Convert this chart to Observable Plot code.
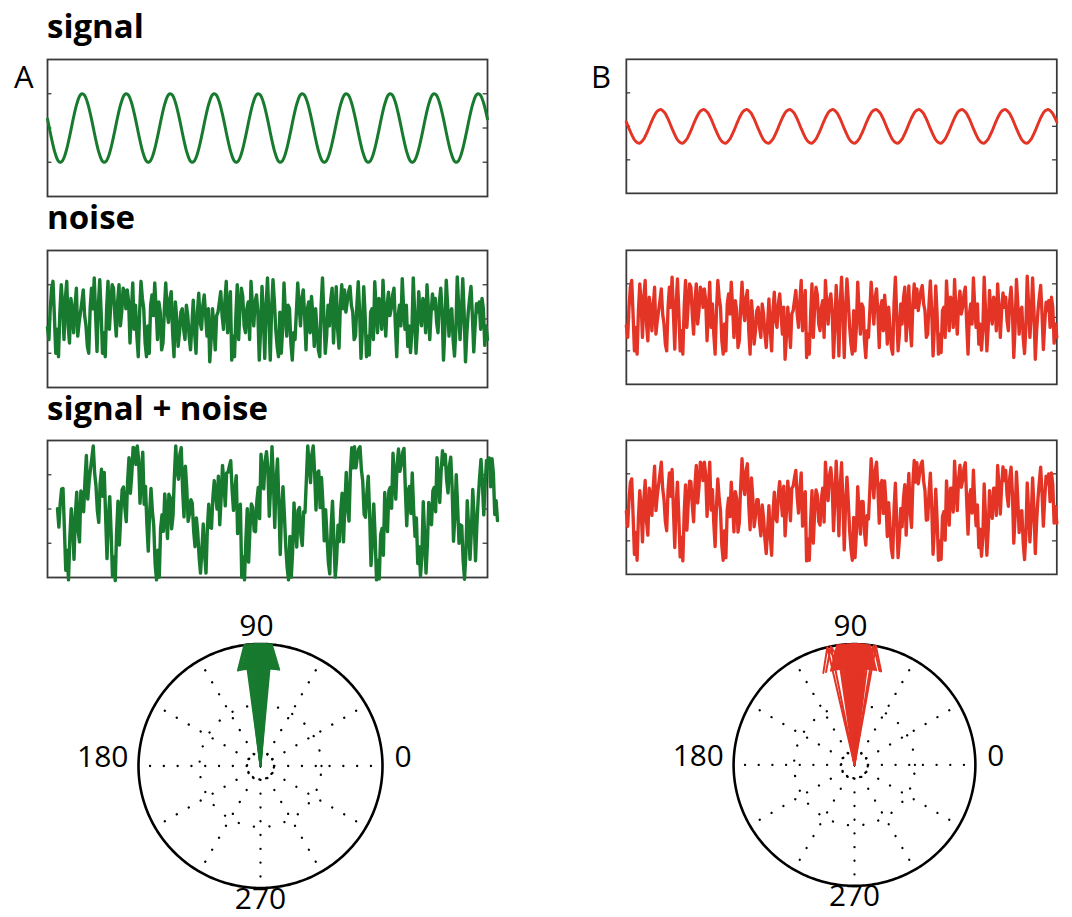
<!DOCTYPE html>
<html>
<head>
<meta charset="utf-8">
<script src="https://cdn.jsdelivr.net/npm/d3@7"></script>
<script src="https://cdn.jsdelivr.net/npm/@observablehq/plot@0.6"></script>
<style>
  html, body { margin: 0; padding: 0; background: #fff; }
  #root { position: relative; width: 1072px; height: 917px; overflow: hidden; font-family: "Open Sans", sans-serif; }
  .p { position: absolute; }
  .p svg { overflow: visible; display: block; }
  #overlay { position: absolute; left: 0; top: 0; pointer-events: none; }
</style>
</head>
<body>
<div id="root"></div>
<script>
// ---------------- DATA ----------------
const colorA = "#187a2f";
const colorB = "#e33426";

// y tick values on the trace panels
const yTicks = [-1, 0, 1];

// signal A: 10 cycles over the panel, 32 samples per cycle (321 samples)
const signalA = [
  0.26,0.07,-0.13,-0.32,-0.5,-0.66,-0.79,-0.9,-0.97,-1.0,-0.99,-0.95,-0.87,-0.75,-0.61,-0.44,-0.26,-0.07,0.13,0.32,0.5,0.66,0.79,0.9,0.97,1.0,0.99,0.95,0.87,0.75,0.61,0.44,
  0.26,0.07,-0.13,-0.32,-0.5,-0.66,-0.79,-0.9,-0.97,-1.0,-0.99,-0.95,-0.87,-0.75,-0.61,-0.44,-0.26,-0.07,0.13,0.32,0.5,0.66,0.79,0.9,0.97,1.0,0.99,0.95,0.87,0.75,0.61,0.44,
  0.26,0.07,-0.13,-0.32,-0.5,-0.66,-0.79,-0.9,-0.97,-1.0,-0.99,-0.95,-0.87,-0.75,-0.61,-0.44,-0.26,-0.07,0.13,0.32,0.5,0.66,0.79,0.9,0.97,1.0,0.99,0.95,0.87,0.75,0.61,0.44,
  0.26,0.07,-0.13,-0.32,-0.5,-0.66,-0.79,-0.9,-0.97,-1.0,-0.99,-0.95,-0.87,-0.75,-0.61,-0.44,-0.26,-0.07,0.13,0.32,0.5,0.66,0.79,0.9,0.97,1.0,0.99,0.95,0.87,0.75,0.61,0.44,
  0.26,0.07,-0.13,-0.32,-0.5,-0.66,-0.79,-0.9,-0.97,-1.0,-0.99,-0.95,-0.87,-0.75,-0.61,-0.44,-0.26,-0.07,0.13,0.32,0.5,0.66,0.79,0.9,0.97,1.0,0.99,0.95,0.87,0.75,0.61,0.44,
  0.26,0.07,-0.13,-0.32,-0.5,-0.66,-0.79,-0.9,-0.97,-1.0,-0.99,-0.95,-0.87,-0.75,-0.61,-0.44,-0.26,-0.07,0.13,0.32,0.5,0.66,0.79,0.9,0.97,1.0,0.99,0.95,0.87,0.75,0.61,0.44,
  0.26,0.07,-0.13,-0.32,-0.5,-0.66,-0.79,-0.9,-0.97,-1.0,-0.99,-0.95,-0.87,-0.75,-0.61,-0.44,-0.26,-0.07,0.13,0.32,0.5,0.66,0.79,0.9,0.97,1.0,0.99,0.95,0.87,0.75,0.61,0.44,
  0.26,0.07,-0.13,-0.32,-0.5,-0.66,-0.79,-0.9,-0.97,-1.0,-0.99,-0.95,-0.87,-0.75,-0.61,-0.44,-0.26,-0.07,0.13,0.32,0.5,0.66,0.79,0.9,0.97,1.0,0.99,0.95,0.87,0.75,0.61,0.44,
  0.26,0.07,-0.13,-0.32,-0.5,-0.66,-0.79,-0.9,-0.97,-1.0,-0.99,-0.95,-0.87,-0.75,-0.61,-0.44,-0.26,-0.07,0.13,0.32,0.5,0.66,0.79,0.9,0.97,1.0,0.99,0.95,0.87,0.75,0.61,0.44,
  0.26,0.07,-0.13,-0.32,-0.5,-0.66,-0.79,-0.9,-0.97,-1.0,-0.99,-0.95,-0.87,-0.75,-0.61,-0.44,-0.26,-0.07,0.13,0.32,0.5,0.66,0.79,0.9,0.97,1.0,0.99,0.95,0.87,0.75,0.61,0.44,
  0.26
];

// signal B: half the amplitude of A
const signalB = [
  0.13,0.03,-0.07,-0.16,-0.25,-0.33,-0.4,-0.45,-0.48,-0.5,-0.5,-0.47,-0.43,-0.38,-0.3,-0.22,-0.13,-0.03,0.07,0.16,0.25,0.33,0.4,0.45,0.48,0.5,0.5,0.47,0.43,0.38,0.3,0.22,
  0.13,0.03,-0.07,-0.16,-0.25,-0.33,-0.4,-0.45,-0.48,-0.5,-0.5,-0.47,-0.43,-0.38,-0.3,-0.22,-0.13,-0.03,0.07,0.16,0.25,0.33,0.4,0.45,0.48,0.5,0.5,0.47,0.43,0.38,0.3,0.22,
  0.13,0.03,-0.07,-0.16,-0.25,-0.33,-0.4,-0.45,-0.48,-0.5,-0.5,-0.47,-0.43,-0.38,-0.3,-0.22,-0.13,-0.03,0.07,0.16,0.25,0.33,0.4,0.45,0.48,0.5,0.5,0.47,0.43,0.38,0.3,0.22,
  0.13,0.03,-0.07,-0.16,-0.25,-0.33,-0.4,-0.45,-0.48,-0.5,-0.5,-0.47,-0.43,-0.38,-0.3,-0.22,-0.13,-0.03,0.07,0.16,0.25,0.33,0.4,0.45,0.48,0.5,0.5,0.47,0.43,0.38,0.3,0.22,
  0.13,0.03,-0.07,-0.16,-0.25,-0.33,-0.4,-0.45,-0.48,-0.5,-0.5,-0.47,-0.43,-0.38,-0.3,-0.22,-0.13,-0.03,0.07,0.16,0.25,0.33,0.4,0.45,0.48,0.5,0.5,0.47,0.43,0.38,0.3,0.22,
  0.13,0.03,-0.07,-0.16,-0.25,-0.33,-0.4,-0.45,-0.48,-0.5,-0.5,-0.47,-0.43,-0.38,-0.3,-0.22,-0.13,-0.03,0.07,0.16,0.25,0.33,0.4,0.45,0.48,0.5,0.5,0.47,0.43,0.38,0.3,0.22,
  0.13,0.03,-0.07,-0.16,-0.25,-0.33,-0.4,-0.45,-0.48,-0.5,-0.5,-0.47,-0.43,-0.38,-0.3,-0.22,-0.13,-0.03,0.07,0.16,0.25,0.33,0.4,0.45,0.48,0.5,0.5,0.47,0.43,0.38,0.3,0.22,
  0.13,0.03,-0.07,-0.16,-0.25,-0.33,-0.4,-0.45,-0.48,-0.5,-0.5,-0.47,-0.43,-0.38,-0.3,-0.22,-0.13,-0.03,0.07,0.16,0.25,0.33,0.4,0.45,0.48,0.5,0.5,0.47,0.43,0.38,0.3,0.22,
  0.13,0.03,-0.07,-0.16,-0.25,-0.33,-0.4,-0.45,-0.48,-0.5,-0.5,-0.47,-0.43,-0.38,-0.3,-0.22,-0.13,-0.03,0.07,0.16,0.25,0.33,0.4,0.45,0.48,0.5,0.5,0.47,0.43,0.38,0.3,0.22,
  0.13,0.03,-0.07,-0.16,-0.25,-0.33,-0.4,-0.45,-0.48,-0.5,-0.5,-0.47,-0.43,-0.38,-0.3,-0.22,-0.13,-0.03,0.07,0.16,0.25,0.33,0.4,0.45,0.48,0.5,0.5,0.47,0.43,0.38,0.3,0.22,
  0.13
];

// noise (same realisation in A and B), 321 samples
const noise = [
  -0.25,-0.6,0.3,0.9,1.1,0.1,-1.0,-0.3,-1.1,0.2,1.0,0.4,-0.6,0.6,1.1,-0.2,-0.7,0.6,0.3,-0.4,0.35,0.9,-0.5,-0.1,0.2,0.5,0.85,0.1,-0.2,-0.8,-1.0,0.3,
  0.9,0.3,1.2,0.1,-0.95,0.4,1.15,0.2,-1.0,-0.4,-1.1,0.3,1.1,-0.3,0.4,1.0,0.9,0.1,-0.5,0.5,1.0,-0.2,0.2,0.9,0.8,0.3,0.85,0.5,-0.7,0.2,1.05,-0.3,
  0.4,-0.5,-1.1,0.2,1.1,0.6,0.3,-0.7,-1.1,-0.2,-1.0,0.4,0.7,0.1,1.05,0.3,-0.6,0.5,0.2,-0.9,-0.7,0.3,1.05,0.2,-0.1,0.6,0.8,-0.4,-1.1,0.5,0.0,-0.8,
  -0.4,0.2,0.3,-0.3,-0.6,0.4,0.1,-0.5,-0.9,-0.2,0.55,-0.4,-1.0,0.2,0.75,-0.1,-0.3,0.4,0.7,0.1,-0.5,0.3,-1.25,-0.6,0.3,-0.2,-0.9,0.1,0.2,0.5,0.8,0.1,
  -0.3,0.5,1.1,-0.4,0.2,0.8,-1.2,-0.5,-1.1,0.1,1.0,-0.6,0.3,0.9,0.66,-0.2,-0.4,0.3,0.5,-0.6,1.1,0.4,-0.2,0.5,0.7,0.2,-1.2,-0.3,0.95,0.1,-1.15,0.4,
  1.2,0.1,-1.2,0.3,1.15,0.5,-0.3,-0.8,-1.1,0.2,-1.0,-0.3,1.05,0.2,-0.5,0.4,0.3,-0.7,-1.2,-0.4,-0.6,0.2,1.05,0.4,-0.2,0.6,0.85,0.1,-0.9,0.3,0.5,-0.4,
  0.66,0.1,-0.8,0.3,-0.3,-0.9,-1.1,0.4,1.2,0.1,-1.0,-0.5,0.4,-0.2,0.56,0.9,-0.7,0.2,0.94,-0.3,-0.85,0.4,1.0,0.3,0.85,0.2,0.5,0.8,0.95,0.4,0.2,-0.6,
  -0.5,0.4,1.09,0.2,-1.15,-0.3,0.94,0.1,-1.1,-0.5,-1.05,0.2,0.3,-0.6,1.09,0.3,-0.4,0.6,0.5,-0.3,1.13,0.2,-0.5,0.4,0.78,0.1,0.3,0.7,0.9,-0.2,-1.1,0.1,
  0.4,-0.2,1.18,0.3,-0.3,0.4,-0.8,-0.2,-0.98,-0.4,1.2,0.2,-1.0,-0.3,0.8,0.1,-0.2,0.6,0.5,-0.4,1.0,0.3,-0.6,0.2,0.73,0.3,0.6,-0.1,-0.4,0.5,0.9,0.2,
  -1.2,-0.3,1.13,0.4,-0.5,0.2,0.3,-0.6,-1.08,-0.3,1.23,0.4,-0.6,0.1,1.18,0.2,-1.25,-0.4,0.2,0.6,0.95,0.1,-0.96,-0.2,0.45,0.2,0.5,-0.3,0.6,0.3,-0.77,-0.2,
  -0.6
];

// phase angles (degrees) of the compass arrows
const phasesA = [84.7,85.5,86.2,86.8,87.3,87.8,88.2,88.6,89.0,89.4,89.7,90.0,90.3,90.6,91.0,91.4,91.8,92.2,92.7,93.2,93.8,94.5,95.3,96.2,97.0,97.6];
const phasesB = [79.8,80.8,82.8,83.8,84.6,85.3,85.9,86.5,87.1,87.6,88.1,88.6,89.1,89.6,90.1,90.6,91.1,91.6,92.2,92.8,93.4,94.1,94.8,95.6,96.5,97.4,98.3,101.3,103.0];

// polar tick labels
const polarLabels = ["0", "90", "180", "270"];
const titles = ["signal", "noise", "signal + noise"];
const panelLetters = ["A", "B"];

// ---------------- DRAWING ----------------
const root = document.getElementById("root");
const sumA = signalA.map((s, i) => s + noise[i]);
const sumB = signalB.map((s, i) => s + noise[i]);

function place(el, left, top) {
  const d = document.createElement("div");
  d.className = "p";
  d.style.left = left + "px";
  d.style.top = top + "px";
  d.appendChild(el);
  root.appendChild(d);
}

function tracePanel(boxLeft, boxTop, series, color, curve, dx = 0) {
  const W = 440, H = 137;
  const m = {t: 8, r: 16, b: 8, l: 8};
  const data = series.map((v, i) => ({t: i / (series.length - 1), v}));
  const chart = Plot.plot({
    width: W + m.l + m.r, height: H + m.t + m.b,
    marginTop: m.t, marginRight: m.r, marginBottom: m.b, marginLeft: m.l,
    x: {domain: [0, 1], axis: null},
    y: {domain: [-2, 2], axis: null},
    marks: [
      Plot.frame({stroke: "#3a3a3a", strokeWidth: 1.8}),
      Plot.ruleY(yTicks, {x1: 0, x2: 0.01, stroke: "#3a3a3a", strokeWidth: 1.3}),
      Plot.ruleY(yTicks, {x1: 0.99, x2: 1, stroke: "#3a3a3a", strokeWidth: 1.3}),
      Plot.line(data, {x: "t", y: "v", stroke: color, strokeWidth: curve === "linear" ? 3.4 : 3,
        strokeLinejoin: "round", curve, dx, clip: false})
    ]
  });
  place(chart, boxLeft - m.l, boxTop - m.t);
}

function polarPanel(cx, cy, phases, color) {
  const W = 440, H = 317, R = 122, top = 600;
  const left = cx - W / 2;
  const cxs = W / 2, cys = cy - top;
  const rad = Math.PI / 180;
  const ring = d3.range(0, 361, 1).map(a => ({a}));
  const spokes = d3.range(0, 360, 30);
  const arrows = [];
  phases.forEach((p, k) => {
    const c = Math.cos(p * rad), s = Math.sin(p * rad);
    const rot = (u, v) => ({k, x: u * c - v * s, y: u * s + v * c});
    arrows.push(rot(0, 0), rot(1, 0), rot(0.8, 0.08), rot(1, 0), rot(0.8, -0.08));
  });
  const labels = [
    {t: polarLabels[0], x: 1, y: 0, anchor: "start", dx: 12, dy: -9},
    {t: polarLabels[1], x: 0, y: 1, anchor: "middle", dx: -4, dy: -18},
    {t: polarLabels[2], x: -1, y: 0, anchor: "end", dx: -10, dy: -9},
    {t: polarLabels[3], x: 0, y: -1, anchor: "middle", dx: 0, dy: 11}
  ];
  const chart = Plot.plot({
    width: W, height: H, margin: 0,
    x: {domain: [-1, 1], range: [cxs - R, cxs + R], axis: null},
    y: {domain: [-1, 1], range: [cys + R, cys - R], axis: null},
    marks: [
      Plot.link(spokes, {x1: 0, y1: 0, x2: a => 0.93 * Math.cos(a * rad), y2: a => 0.93 * Math.sin(a * rad),
        stroke: "#000", strokeWidth: 2.3, strokeLinecap: "round", strokeDasharray: "0.1 13.7"}),
      Plot.line(ring, {x: d => 0.5 * Math.cos(d.a * rad), y: d => 0.5 * Math.sin(d.a * rad),
        stroke: "#000", strokeWidth: 2.3, strokeLinecap: "round", strokeDasharray: "0.1 15.5"}),
      Plot.line(ring, {x: d => 0.11 * Math.cos(d.a * rad), y: d => 0.11 * Math.sin(d.a * rad),
        stroke: "#000", strokeWidth: 2.3, strokeLinecap: "round", strokeDasharray: "0.1 6.8"}),
      Plot.line(ring, {x: d => Math.cos(d.a * rad), y: d => Math.sin(d.a * rad), stroke: "#000", strokeWidth: 2.6}),
      Plot.line(arrows, {x: "x", y: "y", z: "k", stroke: color, strokeWidth: 2}),
      ...labels.map(l => Plot.text([l], {x: "x", y: "y", text: "t", textAnchor: l.anchor, dx: l.dx, dy: l.dy,
        fontSize: 30, fill: "#000", fontFamily: "Open Sans"}))
    ]
  });
  place(chart, left, top);
}

// trace panels
tracePanel(47, 58.5, signalA, colorA, "catmull-rom");
tracePanel(626, 58.5, signalB, colorB, "catmull-rom");
tracePanel(47, 249.5, noise, colorA, "linear");
tracePanel(626, 249.5, noise, colorB, "linear");
tracePanel(47, 440, sumA, colorA, "linear", 10);
tracePanel(626, 440, sumB, colorB, "linear");

// polar panels
polarPanel(259.5, 765.5, phasesA, colorA);
polarPanel(856, 766, phasesB, colorB);

// titles and panel letters
const ov = d3.select(root).append("svg").attr("id", "overlay").attr("width", 1072).attr("height", 917);
const titleY = [38, 229, 420];
titles.forEach((t, i) => {
  ov.append("text").attr("x", 47).attr("y", titleY[i]).attr("font-family", "Open Sans")
    .attr("font-weight", 700).attr("font-size", 33).text(t);
});
ov.append("text").attr("x", 14).attr("y", 88).attr("font-family", "Open Sans").attr("font-size", 31).text(panelLetters[0]);
ov.append("text").attr("x", 591).attr("y", 88).attr("font-family", "Open Sans").attr("font-size", 31).text(panelLetters[1]);
</script>
</body>
</html>
